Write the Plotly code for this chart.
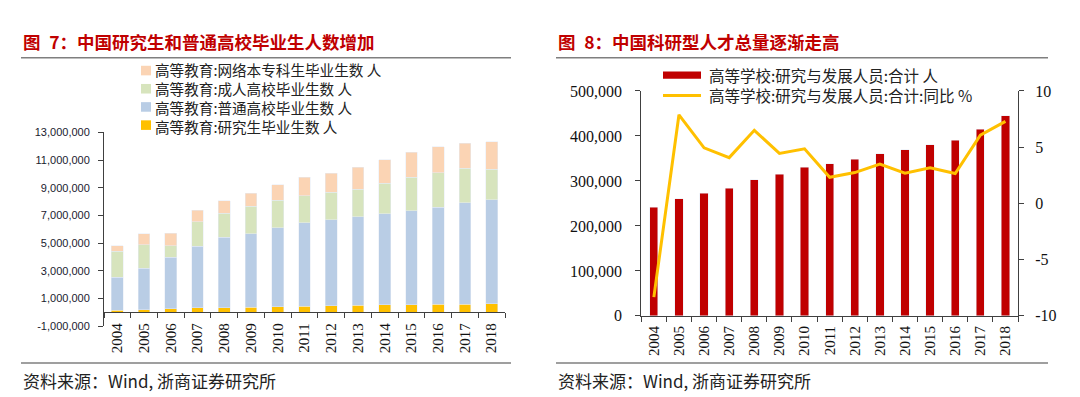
import plotly.graph_objects as go

W, H = 1080, 397

def px(x):
    return x / W

def py(y):
    return 1 - y / H

# ---------------- data ----------------
years = [str(y) for y in range(2004, 2019)]

# Left chart (persons) - stacked
grad_students = [150000, 190000, 256000, 312000, 345000, 371000, 384000, 430000,
                 486000, 514000, 536000, 552000, 564000, 578000, 604000]
regular_grads = [2390000, 3000000, 3740000, 4450000, 5090000, 5310000, 5720000, 6060000,
                 6210000, 6400000, 6580000, 6800000, 7040000, 7340000, 7530000]
adult_grads = [1880000, 1710000, 810000, 1780000, 1710000, 1970000, 2010000, 1920000,
               1980000, 1980000, 2210000, 2400000, 2470000, 2500000, 2190000]
online_grads = [390000, 780000, 920000, 830000, 920000, 970000, 1110000, 1340000,
                1390000, 1590000, 1710000, 1820000, 1890000, 1800000, 1990000]

left_names = ["高等教育:网络本专科生毕业生数 人", "高等教育:成人高校毕业生数 人",
              "高等教育:普通高校毕业生数 人", "高等教育:研究生毕业生数 人"]
left_y_ticks = [-1000000, 1000000, 3000000, 5000000, 7000000, 9000000, 11000000, 13000000]

# Right chart
rd_staff = [241000, 260500, 272600, 283900, 302300, 315000, 330600, 338400,
            348300, 360400, 369600, 380900, 390800, 414900, 445300]
rd_yoy = [-8.33, 7.88, 4.94, 4.07, 6.50, 4.44, 4.86, 2.32, 2.74, 3.50, 2.68, 3.16,
          2.66, 6.07, 7.29]
right_names = ["高等学校:研究与发展人员:合计 人", "高等学校:研究与发展人员:合计:同比 %"]
right_y_ticks = [0, 100000, 200000, 300000, 400000, 500000]
right_y2_ticks = [-10, -5, 0, 5, 10]

title_prefix = ["图\u20027：", "图\u20028："]
title_body = ["中国研究生和普通高校毕业生人数增加", "中国科研型人才总量逐渐走高"]
source = "资料来源：Wind, 浙商证券研究所"

# ---------------- styles ----------------
C_ONLINE = "#FBD4B4"
C_ADULT = "#D7E4BD"
C_REG = "#B9CDE5"
C_GRAD = "#FFC000"
C_RED = "#C00000"
C_LINE = "#FFC000"
AX = "#404040"
CJK = "Noto Sans CJK SC"
SERIF = "Liberation Serif, Times New Roman, serif"
SANS = "Liberation Sans, Arial, sans-serif"

fig = go.Figure()

# Left stacked bars (bottom to top)
for vals, col, nm in [(grad_students, C_GRAD, left_names[3]),
                      (regular_grads, C_REG, left_names[2]),
                      (adult_grads, C_ADULT, left_names[1]),
                      (online_grads, C_ONLINE, left_names[0])]:
    fig.add_trace(go.Bar(x=years, y=vals, name=nm, marker_color=col, width=0.44,
                         xaxis="x", yaxis="y", showlegend=False))

# Right bars + line
fig.add_trace(go.Bar(x=years, y=rd_staff, name=right_names[0], marker_color=C_RED,
                     width=0.33, xaxis="x2", yaxis="y2", showlegend=False))
fig.add_trace(go.Scatter(x=years, y=rd_yoy, name=right_names[1], mode="lines",
                         line=dict(color=C_LINE, width=3), xaxis="x2", yaxis="y3",
                         showlegend=False))

zero_frac = (0 - (-1e6)) / (13e6 - (-1e6))
ly0, ly1 = py(324), py(121.7)

fig.update_layout(
    width=W, height=H, autosize=False,
    margin=dict(l=0, r=0, t=0, b=0),
    paper_bgcolor="white", plot_bgcolor="white",
    barmode="stack",
    showlegend=False,
    xaxis=dict(domain=[px(96), px(497)], anchor="free", position=ly0 + zero_frac * (ly1 - ly0),
               type="category", showline=True, linecolor=AX, linewidth=1,
               ticks="outside", tickson="boundaries", ticklen=5, tickcolor=AX,
               tickangle=-90, tickfont=dict(family=SERIF, size=15, color="#111"),
               ticklabelstandoff=4, showgrid=False),
    yaxis=dict(domain=[ly0, ly1], range=[-1e6, 13e6], anchor="x",
               tickvals=left_y_ticks, ticktext=[f"{v:,}" for v in left_y_ticks],
               showline=True, linecolor=AX, linewidth=1, ticks="outside", ticklen=5,
               tickcolor=AX, showgrid=False, zeroline=False,
               tickfont=dict(family=SANS, size=11, color="#1a1a2e"), ticklabelstandoff=6),
    xaxis2=dict(domain=[px(633.3), px(1010)], anchor="y2", type="category",
                showline=True, linecolor=AX, linewidth=1, ticks="outside",
                tickson="boundaries", ticklen=5, tickcolor=AX, tickangle=-90,
                tickfont=dict(family=SERIF, size=15, color="#111"), ticklabelstandoff=3,
                showgrid=False),
    yaxis2=dict(domain=[py(313.3), py(78.3)], range=[0, 5e5], anchor="x2",
                tickvals=right_y_ticks, ticktext=[f"{v:,}" for v in right_y_ticks],
                showline=True, linecolor=AX, linewidth=1, ticks="outside", ticklen=5,
                tickcolor=AX, showgrid=False, zeroline=False,
                tickfont=dict(family=SERIF, size=16, color="#111"), ticklabelstandoff=10),
    yaxis3=dict(overlaying="y2", side="right", anchor="x2", range=[-10, 10],
                tickvals=right_y2_ticks, ticktext=[str(v) for v in right_y2_ticks],
                showline=True, linecolor=AX, linewidth=1, ticks="outside", ticklen=5,
                tickcolor=AX, showgrid=False, zeroline=False,
                tickfont=dict(family=SERIF, size=16, color="#111"), ticklabelstandoff=8),
)

shapes = []
annotations = []

# Titles and rules
for (x0, x1, tp, tb) in [(13, 503, title_prefix[0], title_body[0]),
                         (548, 1040, title_prefix[1], title_body[1])]:
    annotations.append(dict(x=px(x0), y=py(26.5), xref="paper", yref="paper",
                            xanchor="left", yanchor="middle", showarrow=False,
                            text=f"<b>{tp}{tb}</b>",
                            font=dict(family=CJK, size=17.5, color=C_RED)))
    shapes.append(dict(type="line", xref="paper", yref="paper", x0=px(x0), x1=px(x1),
                       y0=py(43.5), y1=py(43.5), line=dict(color="#7F7F7F", width=1.5)))
    shapes.append(dict(type="line", xref="paper", yref="paper", x0=px(x0), x1=px(x1),
                       y0=py(362.5), y1=py(362.5), line=dict(color="#7F7F7F", width=1.5)))
    annotations.append(dict(x=px(x0), y=py(381), xref="paper", yref="paper",
                            xanchor="left", yanchor="middle", showarrow=False,
                            text=source, font=dict(family=CJK, size=17, color="#222")))

# Left legend (manual): swatches + one multi-line label block
for i, col in enumerate([C_ONLINE, C_ADULT, C_REG, C_GRAD]):
    yc = 57 + i * 19
    shapes.append(dict(type="rect", xref="paper", yref="paper", x0=px(133), x1=px(143),
                       y0=py(yc + 5), y1=py(yc - 5), fillcolor=col, line=dict(width=0)))
annotations.append(dict(x=px(145), y=py(57 + 1.5 * 19), xref="paper", yref="paper",
                        xanchor="left", yanchor="middle", align="left", showarrow=False,
                        text="<br>".join(left_names),
                        font=dict(family=CJK, size=14.6, color="#222")))

# Right legend (manual)
shapes.append(dict(type="rect", xref="paper", yref="paper", x0=px(655), x1=px(693),
                   y0=py(65.5), y1=py(58), fillcolor=C_RED, line=dict(width=0)))
shapes.append(dict(type="line", xref="paper", yref="paper", x0=px(655), x1=px(693),
                   y0=py(83), y1=py(83), line=dict(color=C_LINE, width=3)))
annotations.append(dict(x=px(699), y=py(72.5), xref="paper", yref="paper", xanchor="left",
                        yanchor="middle", align="left", showarrow=False,
                        text="<br>".join(right_names),
                        font=dict(family=CJK, size=15.5, color="#222")))

fig.update_layout(shapes=shapes, annotations=annotations)
fig.write_html("out.html")
